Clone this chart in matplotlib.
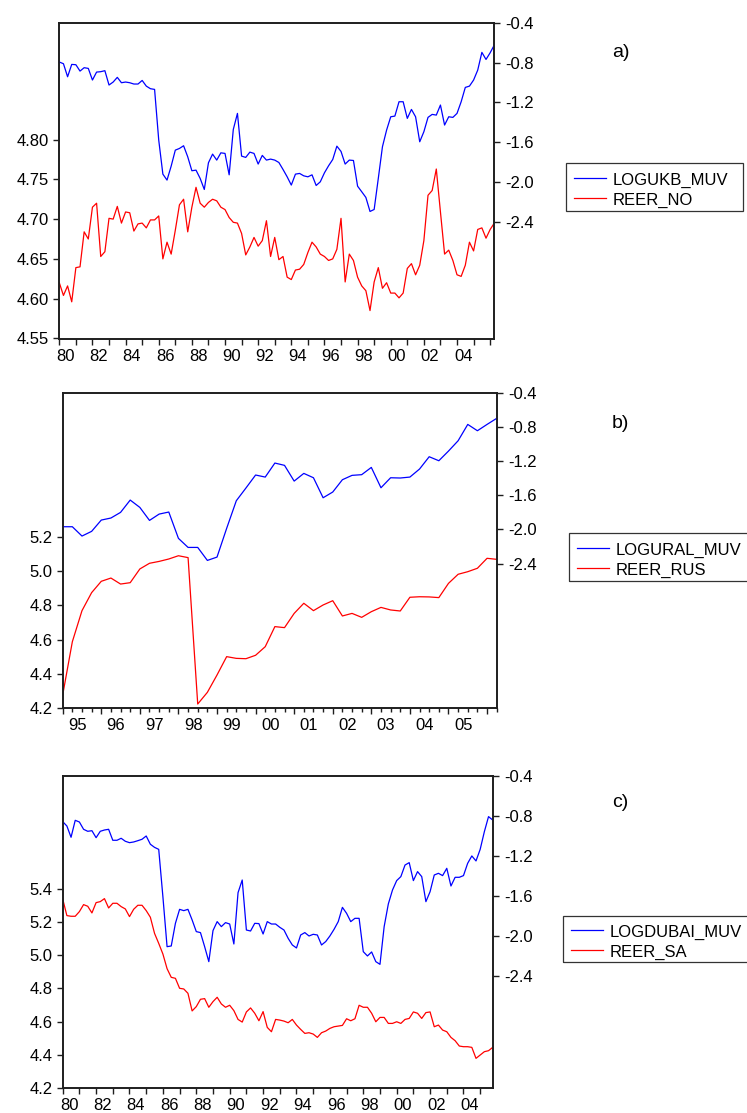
import numpy as np
import matplotlib
matplotlib.use("Agg")
import matplotlib.pyplot as plt
import matplotlib.transforms as mtransforms
from matplotlib.lines import Line2D
from matplotlib.patches import Rectangle

plt.rcParams['font.family'] = ['Liberation Sans', 'DejaVu Sans']

# ---- data (quarterly) ----
# a) 1980Q1 - 2006Q2
logukb_muv = [
    -0.795, -0.812, -0.943, -0.819, -0.822, -0.886, -0.852, -0.859, -0.976, -0.896,
    -0.892, -0.882, -1.026, -0.996, -0.949, -1.003, -0.996, -1.003, -1.016, -1.016,
    -0.980, -1.037, -1.063, -1.070, -1.579, -1.921, -1.981, -1.841, -1.680, -1.663,
    -1.636, -1.747, -1.887, -1.881, -1.964, -2.075, -1.807, -1.720, -1.780, -1.707,
    -1.713, -1.928, -1.472, -1.311, -1.740, -1.753, -1.700, -1.713, -1.820, -1.733,
    -1.780, -1.770, -1.780, -1.804, -1.874, -1.948, -2.031, -1.921, -1.914, -1.938,
    -1.948, -1.928, -2.035, -1.998, -1.908, -1.837, -1.774, -1.640, -1.693, -1.820,
    -1.780, -1.784, -2.042, -2.098, -2.155, -2.296, -2.276, -1.964, -1.646, -1.479,
    -1.345, -1.338, -1.194, -1.194, -1.361, -1.271, -1.345, -1.596, -1.495, -1.351,
    -1.321, -1.328, -1.227, -1.428, -1.345, -1.351, -1.311, -1.194, -1.050, -1.037,
    -0.976, -0.876, -0.698, -0.769, -0.702, -0.624]
reer_no = [
    4.620, 4.604, 4.616, 4.596, 4.639, 4.640, 4.684, 4.675, 4.715, 4.720,
    4.653, 4.659, 4.701, 4.700, 4.716, 4.695, 4.709, 4.708, 4.685, 4.694,
    4.695, 4.689, 4.699, 4.699, 4.704, 4.650, 4.671, 4.656, 4.686, 4.718,
    4.725, 4.684, 4.715, 4.740, 4.720, 4.715, 4.721, 4.725, 4.723, 4.715,
    4.712, 4.702, 4.696, 4.695, 4.682, 4.655, 4.665, 4.677, 4.666, 4.673,
    4.698, 4.653, 4.677, 4.649, 4.653, 4.627, 4.624, 4.636, 4.637, 4.643,
    4.658, 4.671, 4.665, 4.656, 4.653, 4.648, 4.650, 4.662, 4.701, 4.621,
    4.656, 4.648, 4.627, 4.616, 4.610, 4.585, 4.621, 4.639, 4.613, 4.620,
    4.607, 4.607, 4.601, 4.607, 4.638, 4.644, 4.630, 4.642, 4.673, 4.730,
    4.736, 4.763, 4.709, 4.656, 4.661, 4.648, 4.630, 4.628, 4.642, 4.671,
    4.660, 4.687, 4.689, 4.676, 4.687, 4.695]

# b) 1995Q1 - 2006Q2
logural_muv = [
    -1.968, -1.968, -2.077, -2.022, -1.890, -1.866, -1.800, -1.656, -1.742, -1.894,
    -1.820, -1.796, -2.104, -2.210, -2.210, -2.362, -2.323, -1.987, -1.664, -1.515,
    -1.363, -1.387, -1.223, -1.250, -1.434, -1.344, -1.395, -1.629, -1.562, -1.418,
    -1.367, -1.359, -1.274, -1.512, -1.395, -1.398, -1.387, -1.293, -1.149, -1.196,
    -1.083, -0.962, -0.771, -0.845, -0.771, -0.700]
reer_rus = [
    4.278, 4.588, 4.769, 4.874, 4.940, 4.959, 4.924, 4.932, 5.012, 5.045,
    5.056, 5.070, 5.089, 5.078, 4.225, 4.293, 4.394, 4.501, 4.491, 4.489,
    4.509, 4.559, 4.676, 4.670, 4.753, 4.812, 4.769, 4.802, 4.827, 4.738,
    4.753, 4.730, 4.763, 4.788, 4.773, 4.767, 4.847, 4.850, 4.849, 4.845,
    4.928, 4.981, 4.996, 5.016, 5.074, 5.068]

# c) 1980Q1 - 2005Q4
logdubai_muv = [
    -0.857, -0.901, -1.014, -0.844, -0.861, -0.934, -0.954, -0.948, -1.018, -0.954,
    -0.941, -0.934, -1.044, -1.044, -1.024, -1.054, -1.068, -1.061, -1.048, -1.034,
    -1.001, -1.084, -1.115, -1.135, -1.609, -2.110, -2.103, -1.876, -1.736, -1.749,
    -1.736, -1.842, -1.959, -1.969, -2.110, -2.260, -1.949, -1.859, -1.909, -1.869,
    -1.883, -2.083, -1.569, -1.442, -1.943, -1.953, -1.876, -1.879, -1.983, -1.859,
    -1.883, -1.883, -1.916, -1.943, -2.026, -2.093, -2.123, -1.993, -1.969, -2.003,
    -1.986, -1.993, -2.093, -2.059, -2.003, -1.936, -1.859, -1.716, -1.776, -1.859,
    -1.826, -1.826, -2.160, -2.203, -2.163, -2.260, -2.287, -1.909, -1.682, -1.542,
    -1.448, -1.408, -1.292, -1.268, -1.448, -1.358, -1.408, -1.659, -1.559, -1.392,
    -1.375, -1.398, -1.325, -1.502, -1.415, -1.415, -1.398, -1.275, -1.201, -1.251,
    -1.135, -0.958, -0.807, -0.841]
reer_sa = [
    5.338, 5.238, 5.234, 5.234, 5.262, 5.304, 5.294, 5.254, 5.316, 5.322,
    5.340, 5.284, 5.312, 5.312, 5.292, 5.278, 5.232, 5.276, 5.300, 5.300,
    5.268, 5.228, 5.131, 5.071, 5.007, 4.919, 4.867, 4.861, 4.801, 4.797,
    4.771, 4.665, 4.691, 4.735, 4.739, 4.687, 4.721, 4.747, 4.707, 4.687,
    4.699, 4.667, 4.614, 4.598, 4.659, 4.683, 4.651, 4.606, 4.661, 4.566,
    4.540, 4.614, 4.610, 4.604, 4.594, 4.614, 4.580, 4.554, 4.530, 4.534,
    4.526, 4.506, 4.534, 4.544, 4.560, 4.570, 4.574, 4.578, 4.618, 4.606,
    4.618, 4.699, 4.687, 4.687, 4.651, 4.600, 4.626, 4.626, 4.590, 4.590,
    4.600, 4.590, 4.614, 4.620, 4.659, 4.651, 4.620, 4.655, 4.659, 4.570,
    4.580, 4.550, 4.540, 4.506, 4.486, 4.454, 4.450, 4.450, 4.446, 4.380,
    4.400, 4.420, 4.426, 4.446]

left_ticks_a = [4.55, 4.60, 4.65, 4.70, 4.75, 4.80]
left_ticks_b = [4.2, 4.4, 4.6, 4.8, 5.0, 5.2]
left_ticks_c = [4.2, 4.4, 4.6, 4.8, 5.0, 5.2, 5.4]
right_ticks = [-0.4, -0.8, -1.2, -1.6, -2.0, -2.4]

W, H = 747, 1113
BLUE = '#0000ff'
RED = '#ff0000'
EDGE = '#1e1e1e'

fig = plt.figure(figsize=(W / 100, H / 100), dpi=100)


def fx(px):
    return px / W


def fy(py):
    return 1 - py / H


def panel(box, start, blue, red, names, ylim_l, yt_l, fmt_l, ylim_r,
          xlim, years, labelled, quarters, tag, tag_y, leg):
    x0, y0, x1, y1 = box
    ax = fig.add_axes([fx(x0), fy(y1), (x1 - x0) / W, (y1 - y0) / H])
    ax2 = ax.twinx()

    t_red = start + np.arange(len(red)) / 4
    t_blue = start + np.arange(len(blue)) / 4
    ax.plot(t_red, red, color=RED, lw=0.9)
    ax2.plot(t_blue, blue, color=BLUE, lw=0.9)

    ax.set_xlim(*xlim)
    ax.set_ylim(*ylim_l)
    ax2.set_ylim(*ylim_r)

    ax.set_yticks(yt_l, [fmt_l.format(v) for v in yt_l])
    ax2.set_yticks(right_ticks, [f'{v:.1f}' for v in right_ticks])

    ax.set_xticks(years, [f'{y % 100:02d}' if y in labelled else '' for y in years])
    if quarters:
        ax.set_xticks(np.arange(xlim[0], xlim[1] + 0.01, 0.25), minor=True)

    ax.tick_params(axis='x', which='major', direction='out', length=4.4, width=1.0,
                   labelsize=12, pad=2.6, color=EDGE)
    ax.tick_params(axis='x', which='minor', direction='out', length=2.8, width=1.0, color=EDGE)
    ax.tick_params(axis='y', direction='out', length=4.2, width=1.0, labelsize=12,
                   pad=3, color=EDGE)
    ax2.tick_params(axis='y', direction='out', length=4.2, width=1.0, labelsize=12,
                    pad=4, color=EDGE)
    for a in (ax, ax2):
        for s in a.spines.values():
            s.set_linewidth(1.2)
            s.set_color(EDGE)

    # EViews draws the year label a bit to the right of its tick
    # (done after tick_params, which would reset the label transforms)
    px_per_year = (x1 - x0) / (xlim[1] - xlim[0])
    shift = mtransforms.ScaledTranslation(0.38 * px_per_year / 100, 0, fig.dpi_scale_trans)
    for tick in ax.xaxis.get_major_ticks():
        tick.label1.set_transform(tick.label1.get_transform() + shift)

    # tag
    fig.text(fx(612), fy(tag_y), tag, fontsize=14, ha='left', va='center')

    # legend box, drawn in pixel positions of the figure
    bx0, by0, bx1, by1, lx0, lx1, ty0, tx = leg
    fig.add_artist(Rectangle((fx(bx0), fy(by1)), (bx1 - bx0) / W, (by1 - by0) / H,
                             transform=fig.transFigure, fill=False, lw=0.9, ec='#333333'))
    for i, (name, col) in enumerate(zip(names, (BLUE, RED))):
        yy = ty0 + 20 * i
        fig.add_artist(Line2D([fx(lx0), fx(lx1)], [fy(yy), fy(yy)],
                              transform=fig.transFigure, color=col, lw=0.9))
        fig.text(fx(tx), fy(yy + 6.6), name, fontsize=12, ha='left', va='baseline')
    return ax, ax2


panel((59.3, 22.7, 494.3, 339.2), 1980, logukb_muv, reer_no,
      ['LOGUKB_MUV', 'REER_NO'], (4.549, 4.947), left_ticks_a, '{:.2f}',
      (-3.579, -0.4), (1980, 2006.25), list(range(1980, 2007)),
      list(range(1980, 2005, 2)), False, 'a)', 52.5,
      (566, 163, 743, 211, 574, 606, 178, 613))

panel((62.7, 392.7, 496.7, 708.3), 1995, logural_muv, reer_rus,
      ['LOGURAL_MUV', 'REER_RUS'], (4.2, 6.039), left_ticks_b, '{:.1f}',
      (-4.092, -0.4), (1995, 2006.25), list(range(1995, 2007)),
      list(range(1995, 2006)), True, 'b)', 423,
      (569, 533, 775, 581, 577, 609, 548.3, 616))

panel((62.7, 776, 492.7, 1088.3), 1980, logdubai_muv, reer_sa,
      ['LOGDUBAI_MUV', 'REER_SA'], (4.2, 6.077), left_ticks_c, '{:.1f}',
      (-3.529, -0.4), (1980, 2005.75), list(range(1980, 2006)),
      list(range(1980, 2005, 2)), False, 'c)', 802.5,
      (563, 916, 775, 962, 571, 603, 930, 610))

fig.savefig('out.png', dpi=100)
